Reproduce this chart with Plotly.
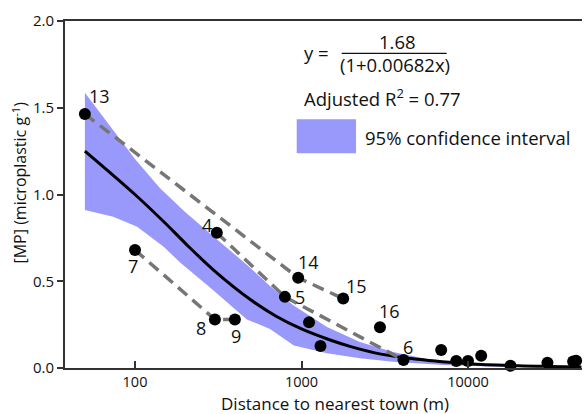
import numpy as np
import plotly.graph_objects as go

# ---- data ----
site_x = [50, 100, 310, 302, 398, 795, 955, 1780, 2960, 1110, 1300, 4100,
          6900, 8500, 10000, 12000, 18000, 30000, 42800, 44600]
site_y = [1.464, 0.68, 0.78, 0.28, 0.28, 0.41, 0.52, 0.40, 0.235, 0.263, 0.127, 0.046,
          0.104, 0.04, 0.04, 0.071, 0.013, 0.03, 0.038, 0.042]

label_text = ["13", "7", "4", "8", "9", "5", "14", "15", "16", "6"]
label_x = [50, 100, 310, 302, 398, 795, 955, 1780, 2960, 4100]
label_y = [1.464, 0.68, 0.78, 0.28, 0.28, 0.41, 0.52, 0.40, 0.235, 0.046]
label_dx = [15, -2, -10, -14, 1, 15, 10, 13, 10, 4]
label_dy = [18, -16, 8, -9, -17, 0, 16, 13, 16, 13]

path_a_x = [50, 955, 1780]
path_a_y = [1.464, 0.52, 0.40]
path_b_x = [310, 795, 4100]
path_b_y = [0.78, 0.41, 0.046]
path_c_x = [100, 302, 398]
path_c_y = [0.68, 0.28, 0.28]

fit_x = [50, 70, 100, 150, 200, 300, 500, 700, 1000, 1500, 2000, 3000, 5000,
         7000, 10000, 20000, 30000, 48000]
fit_y = [1.25, 1.13, 1.00, 0.84, 0.72, 0.56, 0.39, 0.30, 0.225, 0.16, 0.122, 0.08,
         0.05, 0.036, 0.025, 0.013, 0.009, 0.006]

ci_up_x = [50, 71, 100, 141, 200, 294, 471, 647, 889, 1422, 2244, 3548, 5660,
           8980, 16000, 48000]
ci_up_y = [1.587, 1.395, 1.205, 1.037, 0.899, 0.761, 0.594, 0.473, 0.363, 0.236,
           0.150, 0.092, 0.052, 0.029, 0.016, 0.006]
ci_lo_x = [50, 74, 103, 148, 186, 294, 470, 647, 900, 1422, 2244, 3548, 7080,
           15560, 48000]
ci_lo_y = [0.911, 0.872, 0.814, 0.70, 0.61, 0.45, 0.28, 0.225, 0.13, 0.085, 0.056,
           0.036, 0.017, 0.007, 0.003]

x_ticks = [100, 1000, 10000]
x_tick_text = ["100", "1000", "10000"]
y_ticks = [0.0, 0.5, 1.0, 1.5, 2.0]

FONT = "Open Sans"
BAND = "#9999fb"
DASH = "#767676"
AX = "#333333"
TXT = "#111111"

fig = go.Figure()

fig.add_trace(go.Scatter(
    x=ci_up_x + ci_lo_x[::-1], y=ci_up_y + ci_lo_y[::-1],
    fill="toself", fillcolor=BAND, line=dict(width=0), mode="lines",
    hoverinfo="skip", showlegend=False))

fig.add_trace(go.Scatter(x=fit_x, y=fit_y, mode="lines",
                         line=dict(color="black", width=3, shape="spline"),
                         hoverinfo="skip", showlegend=False))

for px_, py_ in [(path_a_x, path_a_y), (path_b_x, path_b_y), (path_c_x, path_c_y)]:
    fig.add_trace(go.Scatter(x=px_, y=py_, mode="lines",
                             line=dict(color=DASH, width=3.5, dash="12px,7px"),
                             hoverinfo="skip", showlegend=False))

fig.add_trace(go.Scatter(x=site_x, y=site_y, mode="markers",
                         marker=dict(color="black", size=12),
                         cliponaxis=False, hoverinfo="skip", showlegend=False))

for t, xv, yv, dx, dy in zip(label_text, label_x, label_y, label_dx, label_dy):
    fig.add_annotation(x=np.log10(xv), y=yv, text=t, showarrow=False,
                       xshift=dx, yshift=dy, xanchor="center", yanchor="middle",
                       font=dict(family=FONT, size=18, color=TXT))

# equation / legend block
ann_font = dict(family=FONT, size=18.5, color=TXT)


def note(x, y, text, xanchor="center", **kw):
    fig.add_annotation(xref="paper", yref="paper", x=x, y=y, text=text,
                       showarrow=False, xanchor=xanchor, yanchor="middle", **kw)


note(0.4874, 0.9078, "y =", font=ann_font)
note(0.6422, 0.9403, "1.68", font=ann_font)
note(0.6383, 0.8732, "(1+0.00682x)", font=ann_font)
fig.add_shape(type="line", xref="paper", yref="paper", x0=0.5352, x1=0.7383,
              y0=0.9069, y1=0.9069, line=dict(color=TXT, width=1.2))
note(0.4584, 0.7781, "Adjusted R<sup>2</sup> = 0.77", xanchor="left", font=ann_font)
fig.add_shape(type="rect", xref="paper", yref="paper", x0=0.4482, x1=0.5629,
              y0=0.6187, y1=0.7167, fillcolor=BAND, line=dict(width=0))
note(0.5764, 0.6657, "95% confidence interval", xanchor="left", font=ann_font)

# axis titles
note(0.522, -0.1015, "Distance to nearest town (m)", borderpad=0,
     font=dict(family=FONT, size=17, color=TXT))
note(-0.087, 0.5346, "[MP] (microplastic g<sup>-1</sup>)", textangle=-90,
     font=dict(family=FONT, size=16, color=TXT))

fig.update_xaxes(type="log", range=[1.5796, 4.6847], tickvals=x_ticks,
                 ticktext=x_tick_text, ticks="inside", ticklen=7, tickwidth=1.5,
                 tickcolor=AX, showline=True, linecolor=AX, linewidth=2,
                 mirror=True, showgrid=False, zeroline=False, automargin=False,
                 tickfont=dict(family=FONT, size=14.5, color=TXT))
fig.update_yaxes(range=[0, 2.0], tickvals=y_ticks, tickformat=".1f",
                 ticks="outside", ticklen=6, tickwidth=1.5, tickcolor=AX,
                 showline=True, linecolor=AX, linewidth=2, showgrid=False,
                 zeroline=False, automargin=False,
                 tickfont=dict(family=FONT, size=15, color=TXT))

fig.update_layout(width=584, height=414, plot_bgcolor="white", paper_bgcolor="white",
                  margin=dict(l=65, r=2, t=21, b=46), showlegend=False)

fig.write_html("out.html", config={"displayModeBar": False},
               post_script="document.body.style.margin='0';"
                           "document.body.style.padding='0';"
                           "document.body.style.overflow='hidden';")
